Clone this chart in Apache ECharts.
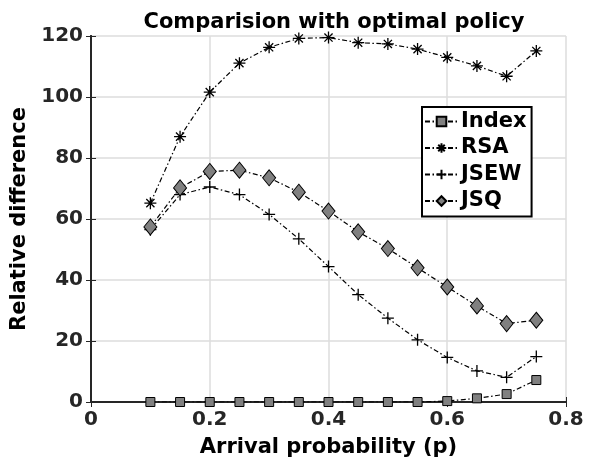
<!DOCTYPE html>
<html>
<head>
<meta charset="utf-8">
<script src="https://cdn.jsdelivr.net/npm/echarts@6/dist/echarts.min.js"></script>
<style>
  html, body { margin: 0; padding: 0; background: #fff; }
  #chart { width: 595px; height: 463px; }
</style>
</head>
<body>
<div id="chart"></div>
<script>
const arrivalProb = [0.1, 0.15, 0.2, 0.25, 0.3, 0.35, 0.4, 0.45, 0.5, 0.55, 0.6, 0.65, 0.7, 0.75];
const indexDiff = [0, 0, 0, 0, 0, 0, 0, 0, 0, 0, 0.3, 1.2, 2.6, 7.2];
const rsaDiff = [65.2, 87, 101.6, 111.1, 116.3, 119.2, 119.5, 117.8, 117.4, 115.7, 113, 110.2, 106.8, 115.1];
const jsewDiff = [56.5, 68, 70.5, 68, 61.5, 53.5, 44.4, 35.2, 27.5, 20.4, 14.6, 10.2, 8.1, 14.9];
const jsqDiff = [57.4, 70.2, 75.6, 76, 73.5, 68.8, 62.6, 55.8, 50.3, 44, 37.7, 31.5, 25.7, 26.8];

const FONT = 'DejaVu Sans';
const asterisk = 'path://M5,0L5,10M0,5L10,5M1.6,1.6L8.4,8.4M1.6,8.4L8.4,1.6';
const plus = 'path://M5,0L5,10M0,5L10,5';
const dashDot = [5, 2.5, 1.5, 2.5];

const pairs = vals => arrivalProb.map((p, i) => [p, vals[i]]);

function makeSeries(name, vals, symbol, size, fill, bw) {
  return {
    name: name,
    type: 'line',
    data: pairs(vals),
    symbol: symbol,
    symbolSize: size,
    showAllSymbol: true,
    lineStyle: { color: '#000', width: 1.2, type: dashDot },
    itemStyle: { color: fill, borderColor: '#000', borderWidth: bw },
    emphasis: { disabled: true },
    z: 3
  };
}

const chart = echarts.init(document.getElementById('chart'));
chart.setOption({
  animation: false,
  backgroundColor: '#fff',
  title: {
    text: 'Comparision with optimal policy',
    left: 329,
    textAlign: 'center',
    top: 7,
    textStyle: { fontFamily: FONT, fontWeight: 'bold', fontSize: 21, color: '#000' }
  },
  grid: { left: 91, top: 36, right: 29, bottom: 60, show: false },
  legend: {
    orient: 'vertical',
    left: 422,
    top: 107,
    width: 110,
    padding: [4, 5, 5, 2],
    itemWidth: 33,
    itemHeight: 12,
    itemGap: 5.5,
    borderColor: '#000',
    borderWidth: 2,
    backgroundColor: '#fff',
    textStyle: { fontFamily: FONT, fontWeight: 'bold', fontSize: 21, color: '#000', padding: [0, 0, 0, -2] },
    data: ['Index', 'RSA', 'JSEW', 'JSQ']
  },
  xAxis: [{
    type: 'value',
    min: 0,
    max: 0.8,
    interval: 0.2,
    name: 'Arrival probability (p)',
    nameLocation: 'middle',
    nameGap: 35,
    nameTextStyle: { fontFamily: FONT, fontWeight: 'bold', fontSize: 21, color: '#000' },
    axisLine: { show: true, lineStyle: { color: '#262626', width: 2 } },
    axisTick: { show: true, inside: true, length: 5, lineStyle: { color: '#262626' } },
    axisLabel: {
      fontFamily: FONT, fontWeight: 'bold', fontSize: 20, color: '#262626', margin: 8,
      formatter: v => (v === 0 ? '0' : String(Math.round(v * 10) / 10))
    },
    splitLine: { show: true, lineStyle: { color: '#dcdcdc', width: 1.5 } }
  }, {
    type: 'value',
    position: 'top',
    min: 0,
    max: 0.8,
    interval: 0.2,
    axisLine: { show: true, lineStyle: { color: '#262626', width: 2 } },
    axisTick: { show: true, inside: true, length: 5, lineStyle: { color: '#262626' } },
    axisLabel: { show: false },
    splitLine: { show: false }
  }],
  yAxis: [{
    type: 'value',
    min: 0,
    max: 120,
    interval: 20,
    name: 'Relative difference',
    nameLocation: 'middle',
    nameGap: 57,
    nameTextStyle: { fontFamily: FONT, fontWeight: 'bold', fontSize: 21, color: '#000' },
    axisLine: { show: true, lineStyle: { color: '#262626', width: 2 } },
    axisTick: { show: true, inside: true, length: 5, lineStyle: { color: '#262626' } },
    axisLabel: { fontFamily: FONT, fontWeight: 'bold', fontSize: 20, color: '#262626', margin: 8 },
    splitLine: { show: true, lineStyle: { color: '#dcdcdc', width: 1.5 } }
  }, {
    type: 'value',
    position: 'right',
    min: 0,
    max: 120,
    interval: 20,
    axisLine: { show: true, lineStyle: { color: '#262626', width: 2 } },
    axisTick: { show: true, inside: true, length: 5, lineStyle: { color: '#262626' } },
    axisLabel: { show: false },
    splitLine: { show: false }
  }],
  series: [
    makeSeries('Index', indexDiff, 'rect', 9, '#808080', 1),
    makeSeries('RSA', rsaDiff, asterisk, 12, '#000', 1.3),
    makeSeries('JSEW', jsewDiff, plus, 12, '#000', 1.3),
    makeSeries('JSQ', jsqDiff, 'diamond', [13, 16], '#808080', 1)
  ]
});
</script>
</body>
</html>
